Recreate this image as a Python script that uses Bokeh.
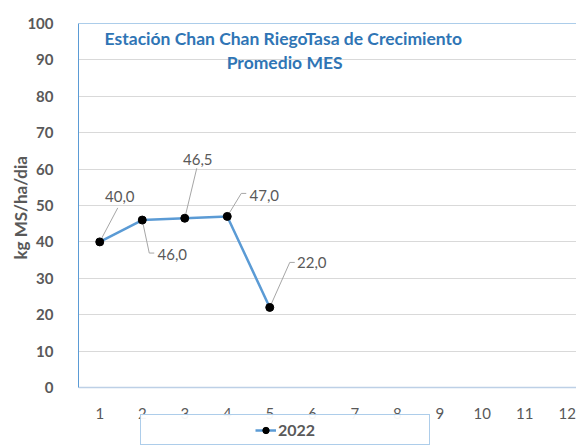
from bokeh.plotting import figure
from bokeh.models import (Range1d, FixedTicker, Span, Label, Legend, LegendItem,
                          ColumnDataSource, Title)
from bokeh.core.properties import value
from bokeh.embed import file_html
from bokeh.resources import INLINE

# ---- data ----
months = [1, 2, 3, 4, 5]
values = [40.0, 46.0, 46.5, 47.0, 22.0]
series_name = "2022"
x_ticks = [1, 2, 3, 4, 5, 6, 7, 8, 9, 10, 11, 12]
y_ticks = [0, 10, 20, 30, 40, 50, 60, 70, 80, 90, 100]
title_lines = ["Estación Chan Chan RiegoTasa de Crecimiento", "Promedio MES"]
y_label = "kg MS/ha/dia"

# label placement (pixel offsets from each point: label centre, leader path)
lab_dx = [20, 30, 13, 37, 42]
lab_dy = [45, -34, 59, 21, 45]
lead_px = [[(18, 34)], [(7, -33), (12, -33)], [(12, 50)], [(14, 23), (19, 23)], [(20, 45), (25, 45)]]

FONT = "Lato"
GRAY = "#595959"
BLUE = "#5b9bd5"

FRAME_W = 498
PX_X = 42.5                 # pixels per category
PX_Y = 3.64                 # pixels per unit (0..100 spans 364 px)
FRAME_H = 424               # plot area plus room for tick labels and legend below 0
Y_MIN = -(FRAME_H / PX_Y - 100)

p = figure(frame_width=FRAME_W, frame_height=FRAME_H,
           x_range=Range1d(0.5, 0.5 + FRAME_W / PX_X), y_range=Range1d(Y_MIN, 100),
           output_backend="svg", toolbar_location=None,
           min_border_left=78, min_border_right=0, min_border_top=23, min_border_bottom=0)
p.outline_line_color = None
p.background_fill_color = "white"
p.border_fill_color = "white"

# axes
p.xaxis.ticker = FixedTicker(ticks=x_ticks)
p.yaxis.ticker = FixedTicker(ticks=y_ticks)
p.xaxis.fixed_location = 0
p.yaxis.bounds = (0, 100)
for ax in (p.xaxis[0], p.yaxis[0]):
    ax.major_tick_line_color = None
    ax.minor_tick_line_color = None
    ax.major_label_text_font = FONT
    ax.major_label_text_font_size = "15px"
    ax.major_label_text_color = GRAY
p.yaxis.major_label_text_font_style = "bold"
p.yaxis.major_label_standoff = 19
p.xaxis.major_label_standoff = 14
p.yaxis.axis_line_color = BLUE
p.yaxis.axis_line_width = 1
p.xaxis.axis_line_color = "#bdd0e6"
p.xaxis.axis_line_width = 1.5

# y-axis title centred on the 0..100 span
p.add_layout(Title(text=y_label, align="left", offset=188, standoff=-12,
                   text_font=FONT, text_font_size="17px", text_font_style="bold",
                   text_color=GRAY), "left")

p.xgrid.grid_line_color = None
p.ygrid.grid_line_color = "#d9d9d9"
p.ygrid.grid_line_width = 1

p.add_layout(Span(location=100, dimension="width", line_color=BLUE, line_width=1))

# leader lines
xs, ys = [], []
for m, v, path in zip(months, values, lead_px):
    xs.append([m] + [m + dx / PX_X for dx, dy in path])
    ys.append([v] + [v + dy / PX_Y for dx, dy in path])
p.multi_line(xs, ys, line_color="#a6a6a6", line_width=1)

src = ColumnDataSource(dict(x=months, y=values))
line_r = p.line("x", "y", source=src, line_color=BLUE, line_width=2.5)
pts_r = p.scatter("x", "y", source=src, size=8, fill_color="black", line_color="black")

# data labels
lsrc = ColumnDataSource(dict(
    x=[m + dx / PX_X for m, dx in zip(months, lab_dx)],
    y=[v + dy / PX_Y for v, dy in zip(values, lab_dy)],
    t=[("%.1f" % v).replace(".", ",") for v in values]))
p.text("x", "y", text="t", source=lsrc, text_font=value(FONT), text_font_size="15px",
       text_color=GRAY, text_align="center", text_baseline="middle")

# title (inside plot area)
p.add_layout(Label(x=5.32, y=95.9, text=title_lines[0], text_font=FONT, text_font_size="17.5px",
                   text_font_style="bold", text_color="#2f75b5", text_align="center",
                   text_baseline="middle"))
p.add_layout(Label(x=5.35, y=89.15, text=title_lines[1], text_font=FONT, text_font_size="17.5px",
                   text_font_style="bold", text_color="#2f75b5", text_align="center",
                   text_baseline="middle"))

# legend under the axis: invisible spacer entries centre the real entry in a wide box
spacer_r = p.line(x=[], y=[], line_alpha=0)
legend = Legend(items=[LegendItem(label=" ", renderers=[spacer_r]),
                       LegendItem(label=series_name, renderers=[line_r, pts_r]),
                       LegendItem(label=" ", renderers=[spacer_r])],
                orientation="horizontal", location=(62, 2), margin=0, padding=5, spacing=66,
                glyph_width=21, glyph_height=16, label_width=20, label_height=18,
                label_standoff=2,
                label_text_font=FONT, label_text_font_size="16px",
                label_text_font_style="bold", label_text_color=GRAY,
                border_line_color=BLUE, border_line_width=1, background_fill_color="white")
p.add_layout(legend, "center")

open("out.html", "w").write(file_html(p, INLINE))
